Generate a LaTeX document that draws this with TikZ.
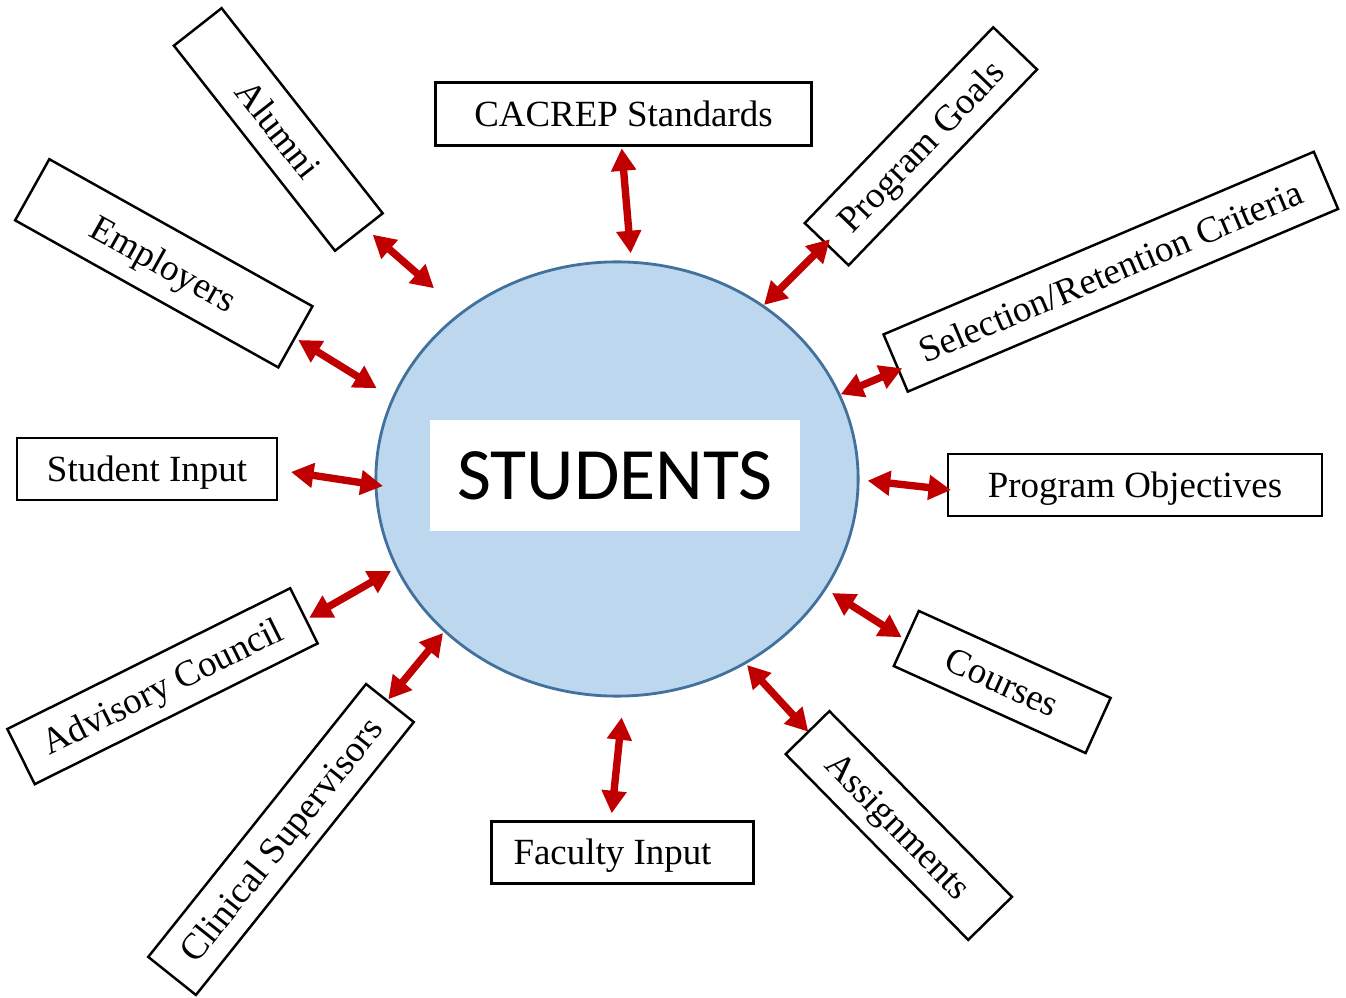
\documentclass[tikz,border=0pt]{standalone}
\usepackage{fontspec}
\setmainfont{Liberation Serif}
\newfontfamily\calibrifont{Carlito}
\usetikzlibrary{arrows.meta,shapes.geometric}
\definecolor{hubfill}{HTML}{BDD7EE}
\definecolor{hubline}{HTML}{41719C}
\definecolor{linkred}{HTML}{C00000}
\begin{document}
\begin{tikzpicture}[x=0.01cm,y=-0.01cm,
  box/.style={draw=black, line width=0.7pt, fill=white, inner sep=0pt,
    text height=7pt, text depth=0pt,
    font=\fontsize{10.5pt}{12pt}\selectfont},
  link/.style={draw=linkred, line width=2.1pt,
    {Triangle[width=6.8pt,length=6.4pt]}-{Triangle[width=6.8pt,length=6.4pt]}}]
\useasboundingbox (0,0) rectangle (1346,998);

% central hub
\node[ellipse, draw=hubline, line width=0.8pt, fill=hubfill, inner sep=0pt,
  minimum width=4.82cm, minimum height=4.34cm] (hub) at (617,479) {};
\node[fill=white, inner sep=0pt, minimum width=3.70cm, minimum height=1.11cm,
  font=\calibrifont\fontsize{21pt}{24pt}\selectfont] (hublabel) at (615,475.5) {STUDENTS};

% surrounding inputs
\node[box, minimum width=3.76cm, minimum height=0.63cm] (cacrep) at (623.5,114) {CACREP Standards};
\node[box, minimum width=2.716cm, minimum height=0.608cm, rotate=46.1] (goals) at (920.9,146.3) {Program Goals};
\node[box, minimum width=4.672cm, minimum height=0.621cm, rotate=23.0] (selection) at (1110.8,271.7) {Selection/Retention Criteria};
\node[box, minimum width=3.74cm, minimum height=0.62cm] (objectives) at (1135,485) {Program Objectives};
\node[box, minimum width=2.105cm, minimum height=0.605cm, rotate=-24.4] (courses) at (1002.2,682) {Courses};
\node[box, minimum width=2.603cm, minimum height=0.613cm, rotate=-45.5] (assignments) at (898.8,825.5) {Assignments};
\node[box, minimum width=2.616cm, minimum height=0.616cm] (faculty) at (622.5,852.5) {Faculty Input\kern0.2cm};
\node[box, minimum width=3.49cm, minimum height=0.61cm, rotate=51.4] (clinical) at (281,839.5) {Clinical Supervisors};
\node[box, minimum width=3.158cm, minimum height=0.616cm, rotate=26.45] (advisory) at (162.5,686.2) {Advisory Council};
\node[box, minimum width=2.60cm, minimum height=0.62cm] (studentinput) at (147,469) {Student Input};
\node[box, minimum width=3.013cm, minimum height=0.70cm, rotate=-29.2] (employers) at (163.8,263.3) {Employers};
\node[box, minimum width=2.607cm, minimum height=0.606cm, rotate=-51.85] (alumni) at (278.3,129.5) {Alumni};

% arrow end points
\coordinate (cacrepA) at (621.7,148.3);      \coordinate (cacrepB) at (630.7,253.3);
\coordinate (goalsA) at (830,239.3);         \coordinate (goalsB) at (764,305);
\coordinate (selectionA) at (902.3,368.3);   \coordinate (selectionB) at (840.7,394.3);
\coordinate (objectivesA) at (951,490);      \coordinate (objectivesB) at (867.7,480.7);
\coordinate (coursesA) at (901.7,637.3);     \coordinate (coursesB) at (832,593);
\coordinate (assignmentsA) at (808.3,731.7); \coordinate (assignmentsB) at (747,665);
\coordinate (facultyA) at (611.7,813.3);     \coordinate (facultyB) at (621.7,717.3);
\coordinate (clinicalA) at (388.3,699.3);    \coordinate (clinicalB) at (443,633);
\coordinate (advisoryA) at (309.3,617.7);    \coordinate (advisoryB) at (391,571);
\coordinate (studentA) at (291,472);         \coordinate (studentB) at (383,486);
\coordinate (employersA) at (298.3,340);     \coordinate (employersB) at (376.7,388.3);
\coordinate (alumniA) at (372.7,234.7);      \coordinate (alumniB) at (434,288.3);

% two-way links
\foreach \n in {cacrep,goals,selection,objectives,courses,assignments,faculty,clinical,advisory,student,employers,alumni}
  \draw[link] (\n A) -- (\n B);
\end{tikzpicture}
\end{document}
